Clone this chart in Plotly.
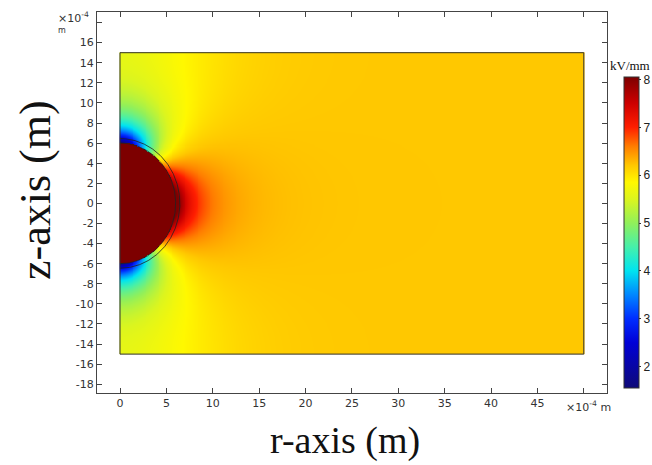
import numpy as np
import plotly.graph_objects as go

# ---- values (lengths in 1e-4 m, field in kV/mm) ----
r_extent = [0.0, 50.0]
z_extent = [-15.0, 15.0]
sphere_radius = 6.0
shell_radius = 6.45
E_applied = 6.2          # far-field strength
contrast_K = -0.36       # (eps_in - eps_out) / (eps_in + 2 eps_out)
image_orders = [-4, -3, -2, -1, 0, 1, 2, 3, 4]
image_spacing = 30.0     # electrode mirror images
cbar_min, cbar_max = 1.55, 8.05
cbar_ticks = [2, 3, 4, 5, 6, 7, 8]
x_tickvals = [0, 5, 10, 15, 20, 25, 30, 35, 40, 45, 50]
x_ticktext = ["0", "5", "10", "15", "20", "25", "30", "35", "40", "45", ""]
y_tickvals = list(range(-18, 20, 2))
y_ticktext = [str(v) for v in range(-18, 18, 2)] + [""]
color_stops = [  # (value, colour)
    (1.55, "rgb(15,10,120)"),
    (2.5, "rgb(0,0,215)"),
    (3.0, "rgb(0,45,255)"),
    (3.5, "rgb(0,135,255)"),
    (4.0, "rgb(0,228,240)"),
    (4.5, "rgb(70,240,170)"),
    (5.0, "rgb(145,240,90)"),
    (5.5, "rgb(220,245,30)"),
    (5.85, "rgb(255,248,0)"),
    (6.2, "rgb(255,200,0)"),
    (6.6, "rgb(255,125,0)"),
    (7.0, "rgb(255,30,0)"),
    (7.5, "rgb(205,0,0)"),
    (8.05, "rgb(125,0,0)"),
]

# ---- electrostatic field of a sphere in a uniform field between electrodes ----
r = np.linspace(r_extent[0], r_extent[1], 501)
z = np.linspace(z_extent[0], z_extent[1], 301)
R, Z = np.meshgrid(r, z)
p = contrast_K * sphere_radius ** 3 * E_applied
Er = np.zeros_like(R)
Ez = np.full_like(R, E_applied)
for n in image_orders:
    dz = Z - n * image_spacing
    D = np.sqrt(R ** 2 + dz ** 2)
    D = np.where(D < 1e-6, 1e-6, D)
    Er += p * 3 * dz * R / D ** 5
    Ez += p * (3 * dz ** 2 / D ** 5 - 1 / D ** 3)
E = np.sqrt(Er ** 2 + Ez ** 2)
inside = R ** 2 + Z ** 2 < sphere_radius ** 2
E = np.where(inside, E_applied * (1 - contrast_K), E)
E = np.round(E, 3)

colorscale = [[(v - cbar_min) / (cbar_max - cbar_min), c] for v, c in color_stops]

fig = go.Figure()
fig.add_trace(go.Heatmap(
    x=r, y=z, z=E, zmin=cbar_min, zmax=cbar_max, colorscale=colorscale,
    zsmooth=False, hoverinfo="skip",
    colorbar=dict(
        thickness=15, len=311, lenmode="pixels",
        x=(624 - 97) / 510, xanchor="left", y=0.421, yanchor="middle",
        xpad=0, ypad=0,
        tickvals=cbar_ticks, ticks="outside", ticklen=2, tickcolor="#333",
        tickfont=dict(family="Liberation Sans", size=12, color="#222"),
        outlinewidth=1, outlinecolor="#333",
    ),
))

# sphere and shell boundaries
theta = np.linspace(-np.pi / 2, np.pi / 2, 200)
for rad in (sphere_radius, shell_radius):
    fig.add_trace(go.Scatter(
        x=rad * np.cos(theta), y=rad * np.sin(theta), mode="lines",
        line=dict(color="#222", width=0.8), hoverinfo="skip", showlegend=False,
    ))

# domain outline
fig.add_shape(type="rect", x0=r_extent[0], x1=r_extent[1], y0=z_extent[0], y1=z_extent[1],
              line=dict(color="#333", width=1))

axis_common = dict(
    showgrid=False, zeroline=False, showline=True, linecolor="#444", linewidth=1,
    mirror="ticks", ticks="inside", ticklen=5, tickcolor="#444",
    tickfont=dict(family="DejaVu Sans", size=11, color="#333"),
)
fig.update_xaxes(range=[-2.48, 52.5], tickvals=x_tickvals, ticktext=x_ticktext, **axis_common)
fig.update_yaxes(range=[-18.87, 19.05], tickvals=y_tickvals, ticktext=y_ticktext, **axis_common)

def px(xp):
    return (xp - 97) / 510

def py(yp):
    return (393 - yp) / 381

ann = [
    dict(text="z-axis (m)", x=px(35), y=py(190), textangle=-90,
         font=dict(family="Liberation Serif", size=44, color="#111")),
    dict(text="r-axis (m)", x=px(345), y=py(440),
         font=dict(family="Liberation Serif", size=38, color="#111")),
    dict(text="×10<sup>-4</sup>", x=px(56), y=py(18), xanchor="left",
         font=dict(family="DejaVu Sans", size=11, color="#333")),
    dict(text="m", x=px(56), y=py(31), xanchor="left",
         font=dict(family="DejaVu Sans", size=8, color="#333")),
    dict(text="×10<sup>-4</sup> m", x=px(588), y=py(406),
         font=dict(family="DejaVu Sans", size=11, color="#333")),
    dict(text="kV/mm", x=px(630), y=py(66),
         font=dict(family="Liberation Serif", size=13, color="#111")),
]
for a in ann:
    a.update(xref="paper", yref="paper", showarrow=False)
    a.setdefault("xanchor", "center")
    a.setdefault("yanchor", "middle")
fig.update_layout(
    width=652, height=465, margin=dict(l=97, r=45, t=12, b=72, autoexpand=False),
    paper_bgcolor="white", plot_bgcolor="white", showlegend=False,
    annotations=ann,
)
fig.write_html("out.html")
